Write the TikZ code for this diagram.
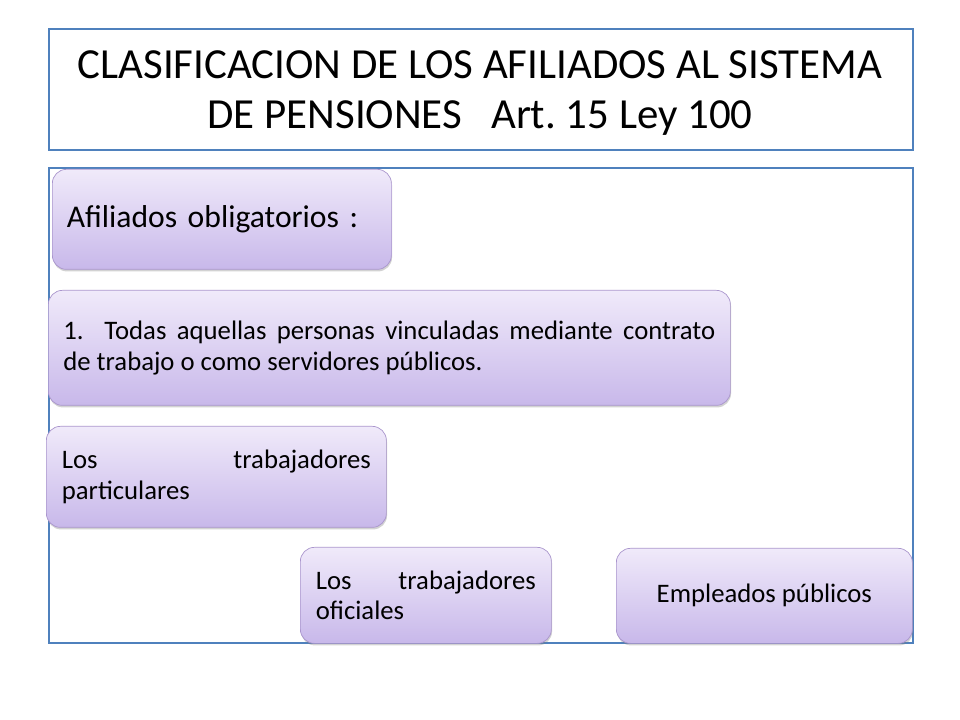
\documentclass[tikz,border=0pt]{standalone}
\usepackage{fontspec}
\setmainfont{Carlito}
\frenchspacing
\usetikzlibrary{positioning,shadows}
\definecolor{frameblue}{RGB}{79,129,189}
\definecolor{lilatop}{RGB}{240,234,250}
\definecolor{lilabot}{RGB}{200,184,234}
\definecolor{lilaline}{RGB}{170,150,205}
\tikzset{frame/.style={draw=frameblue, line width=1.6pt, fill=white, anchor=north west},
         bubble/.style={draw=lilaline, line width=0.5pt, rounded corners=10pt,
                        top color=lilatop, bottom color=lilabot, anchor=north west,
                        drop shadow={shadow xshift=0.5pt, shadow yshift=-1.5pt, opacity=0.35}},
         boxtext/.style={font=\fontsize{19}{21.8}\selectfont}}
\begin{document}
\begin{tikzpicture}[x=0.025cm, y=-0.025cm]
\useasboundingbox (0,0) rectangle (960,720);
% marcos
\node[frame, minimum width=864*0.025cm, minimum height=121*0.025cm] (marco) at (48,28) {};
\node[align=center, font=\fontsize{30.5}{35.5}\selectfont] (titulo) at (480,93.5)
      {CLASIFICACION DE LOS AFILIADOS AL SISTEMA\\DE PENSIONES\ \ \ Art. 15 Ley 100};
\node[frame, minimum width=864*0.025cm, minimum height=475*0.025cm] (cuerpo) at (48,167) {};
% cajas
\node[bubble, minimum width=339*0.025cm, minimum height=100*0.025cm, align=left,
      font=\fontsize{22.5}{27}\selectfont, text width=310*0.025cm] (obligatorios) at (52,169)
      {Afiliados obligatorios :};
\node[bubble, boxtext, minimum width=682*0.025cm, minimum height=115*0.025cm, align=justify,
      text width=652*0.025cm] (todas) at (48,290)
      {1.\ \ Todas aquellas personas vinculadas mediante contrato\linebreak de trabajo o como servidores públicos.};
\node[bubble, boxtext, minimum width=340*0.025cm, minimum height=101*0.025cm, align=left,
      text width=309*0.025cm] (particulares) at (46,426)
      {Los\hfill trabajadores\\particulares};
\node[bubble, boxtext, minimum width=251*0.025cm, minimum height=96*0.025cm, align=left,
      text width=220*0.025cm] (oficiales) at (300,547)
      {Los\hfill trabajadores\\oficiales};
\node[bubble, boxtext, minimum width=296*0.025cm, minimum height=95*0.025cm, align=center] (empleados) at (616,548)
      {Empleados públicos};
\end{tikzpicture}
\end{document}
